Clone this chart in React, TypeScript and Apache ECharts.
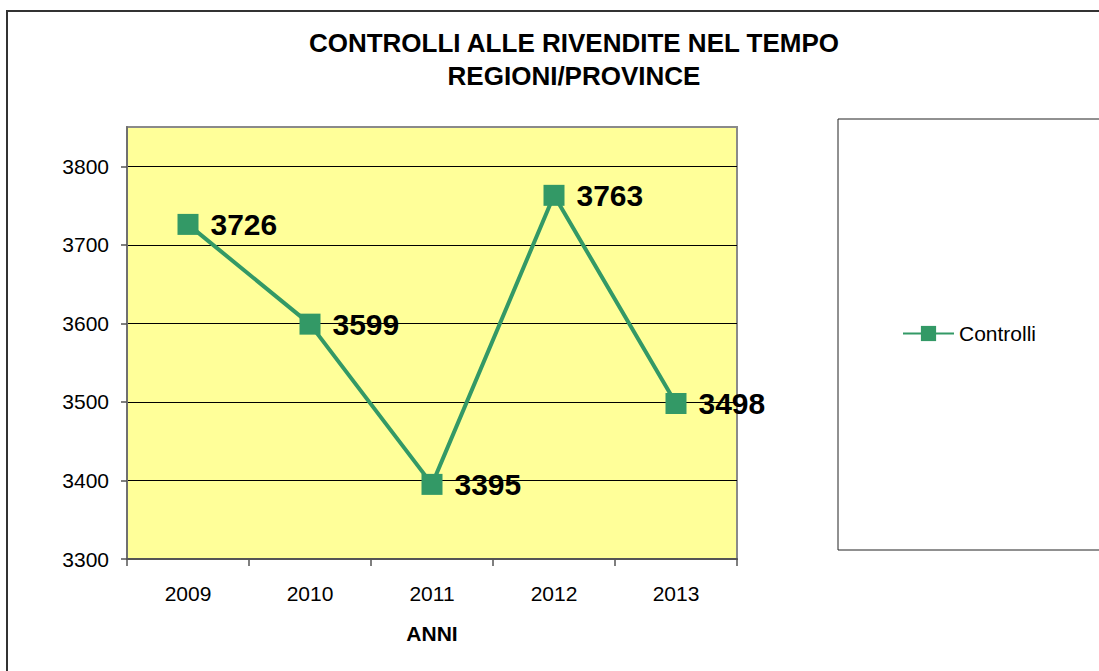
import React, { useEffect, useRef } from "react";
import * as echarts from "echarts";

const years = ["2009", "2010", "2011", "2012", "2013"];
const controlli = [3726, 3599, 3395, 3763, 3498];
const yTicks = [3300, 3400, 3500, 3600, 3700, 3800];
const titleLines = ["CONTROLLI ALLE RIVENDITE NEL TEMPO", "REGIONI/PROVINCE"];
const seriesName = "Controlli";
const xAxisName = "ANNI";

const FONT = "'Liberation Sans', Arial, sans-serif";
const GREEN = "#339966";

export default function App() {
  const ref = useRef<HTMLDivElement>(null);
  useEffect(() => {
    if (!ref.current) return;
    const chart = echarts.init(ref.current, null, { renderer: "svg" });
    chart.setOption({
      animation: false,
      backgroundColor: "#ffffff",
      textStyle: { fontFamily: FONT },
      graphic: [
        {
          type: "rect",
          shape: { x: 7, y: 11, width: 1200, height: 800 },
          style: { fill: "none", stroke: "#333333", lineWidth: 2 },
          silent: true,
          z: -10,
        },
        {
          type: "rect",
          shape: { x: 838, y: 119, width: 400, height: 431 },
          style: { fill: "#ffffff", stroke: "#222222", lineWidth: 1 },
          silent: true,
          z: -5,
        },
        {
          type: "text",
          x: 574,
          y: 42.5,
          style: {
            text: titleLines[0],
            font: `bold 26px ${FONT}`,
            fill: "#000000",
            textAlign: "center",
            textVerticalAlign: "middle",
          },
        },
        {
          type: "text",
          x: 574,
          y: 76,
          style: {
            text: titleLines[1],
            font: `bold 26px ${FONT}`,
            fill: "#000000",
            textAlign: "center",
            textVerticalAlign: "middle",
          },
        },
      ],
      legend: {
        show: true,
        left: 902,
        top: 323,
        itemWidth: 51,
        itemHeight: 19,
        itemGap: 0,
        padding: 0,
        textStyle: { fontSize: 21, color: "#000000", fontFamily: FONT, padding: [0, 0, 0, 0] },
        data: [seriesName],
        z: 10,
      },
      grid: {
        show: true,
        left: 127,
        top: 127,
        right: 1099 - 737,
        bottom: 671 - 559,
        backgroundColor: "#FFFF99",
        borderColor: "#8a8a8a",
        borderWidth: 2,
        containLabel: false,
      },
      xAxis: {
        type: "category",
        data: years,
        boundaryGap: true,
        name: xAxisName,
        nameLocation: "middle",
        nameGap: 64,
        nameTextStyle: { fontSize: 21, fontWeight: "bold", color: "#000000", fontFamily: FONT },
        axisLine: { show: true, lineStyle: { color: "#555555", width: 2 } },
        axisTick: { show: true, length: 7, lineStyle: { color: "#555555", width: 1.5 } },
        axisLabel: { fontSize: 21, color: "#000000", margin: 24, fontFamily: FONT },
        splitLine: { show: false },
      },
      yAxis: {
        type: "value",
        min: 3300,
        max: 3850,
        interval: 100,
        axisLine: { show: true, lineStyle: { color: "#707070", width: 2 } },
        axisTick: { show: true, length: 6, customValues: yTicks, lineStyle: { color: "#555555", width: 1.5 } },
        axisLabel: {
          fontSize: 21,
          color: "#000000",
          margin: 18,
          fontFamily: FONT,
          customValues: yTicks,
          formatter: (v: number) => String(v),
        },
        splitLine: { show: true, lineStyle: { color: "#000000", width: 1 } },
      },
      series: [
        {
          name: seriesName,
          type: "line",
          data: controlli,
          symbol: "rect",
          symbolSize: 21,
          itemStyle: { color: GREEN },
          lineStyle: { color: GREEN, width: 4 },
          label: {
            show: true,
            position: "right",
            distance: 12,
            fontSize: 30,
            fontWeight: "bold",
            color: "#000000",
            fontFamily: FONT,
          },
          z: 5,
        },
      ],
    });
    return () => chart.dispose();
  }, []);
  return (
    <div
      ref={ref}
      style={{ position: "fixed", left: 0, top: 0, width: 1099, height: 671 }}
    />
  );
}
